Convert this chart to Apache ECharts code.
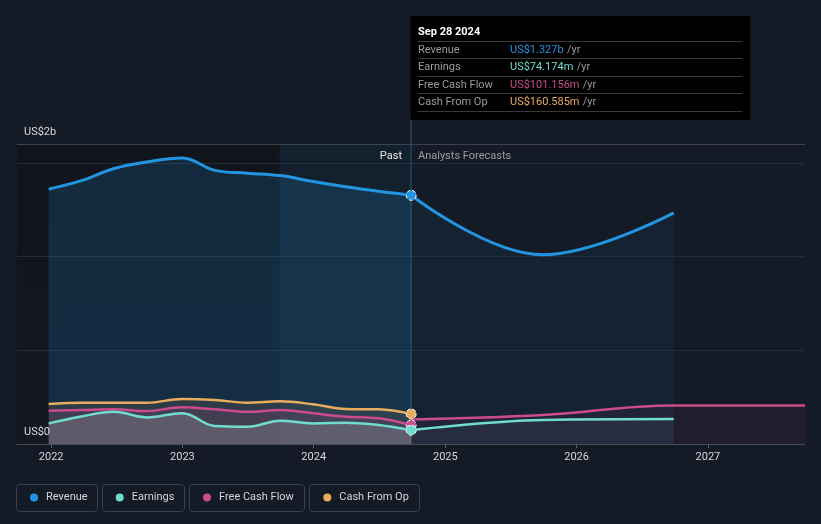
<!DOCTYPE html>
<html><head><meta charset="utf-8">
<script src="https://cdn.jsdelivr.net/npm/echarts@6/dist/echarts.min.js"></script>
<style>html,body{margin:0;padding:0;background:#151b26;}#c{width:821px;height:524px;}</style>
</head><body><div id="c"></div>
<script>
// ---- data (US$ millions) ----
const pastDates = ['2021-12-25','2022-03-26','2022-06-25','2022-09-24','2022-12-31','2023-04-01','2023-07-01','2023-09-30','2023-12-30','2024-03-30','2024-06-29','2024-09-28'];
const revenuePast  = [1360,1405,1470,1505,1526,1460,1445,1432,1400,1372,1348,1327];
const earningsPast = [110,147,172,142,164,96,92,124,110,114,101,74.174];
const fcfPast      = [178,181,185,176,196,185,172,181,164,146,137,101.156];
const cfoPast      = [213,220,220,220,240,235,220,228,212,187,185,160.585];
const forecastDates    = ['2024-09-28','2025-09-28','2026-09-28'];
const revenueForecast  = [1327,1010,1233];
const earningsForecast = [74.174,128,133];
const fcfForecastDates = ['2024-09-28','2025-09-28','2026-09-28','2027-09-28'];
const fcfForecast      = [131,155,206,206];
const tooltipDate = 'Sep 28 2024';
const tooltipLabels = ['Revenue','Earnings','Free Cash Flow','Cash From Op'];
const tooltipValues = ['US$1.327b','US$74.174m','US$101.156m','US$160.585m'];
const yLabels = ['US$2b','US$0'];

const COL = {rev:'#2394df', earn:'#6fdccf', fcf:'#cc4b8e', cfo:'#e8ac5e'};
const toTs = s => { const [y,m,d] = s.split('-').map(Number); return new Date(y, m-1, d).getTime(); };
const mk = (dates, vals, dot, color) => vals.map((v,i) => {
  const item = {value:[toTs(dates[i]), v]};
  if (dot && i === vals.length-1) {
    item.symbol = 'circle'; item.symbolSize = 10;
    item.itemStyle = {color: color, borderColor:'#ffffff', borderWidth:1, borderType:'dashed'};
  }
  return item;
});
const line = (name, color, data, width, area, extra) => Object.assign({
  name, type:'line', data, smooth:0.4, symbol:'none', showSymbol:true, color, z:3,
  lineStyle:{width, color}, areaStyle:{color:area, origin:'start'}, emphasis:{disabled:true}, silent:true
}, extra||{});

const chart = echarts.init(document.getElementById('c'), null, {renderer:'canvas'});
const FONT = 'Roboto, "Noto Sans", sans-serif';
const legendItem = (name, left) => ({
  data:[name], left, top:487, icon:'circle', itemWidth:14, itemHeight:8, itemGap:0,
  textStyle:{color:'#d2d4d8', fontSize:11, fontFamily:FONT}, selectedMode:false
});
const rowY = [50.3, 67.3, 85, 101.8];
const sepY = [41.5, 58.5, 76.5, 93.5, 111.5];
const rowCol = [COL.rev, COL.earn, COL.fcf, COL.cfo];

const graphic = [
  {type:'text', x:24, y:132, style:{text:yLabels[0], fill:'#d8d8d8', font:'11px '+FONT, verticalAlign:'middle'}, z:50},
  {type:'text', x:24, y:432, style:{text:yLabels[1], fill:'#d8d8d8', font:'11px '+FONT, verticalAlign:'middle'}, z:50},
  {type:'text', x:402, y:156.5, style:{text:'Past', fill:'#e6e6e6', font:'11px '+FONT, align:'right', verticalAlign:'middle'}, z:50},
  {type:'text', x:418, y:156.5, style:{text:'Analysts Forecasts', fill:'#9a9ea6', font:'11px '+FONT, verticalAlign:'middle'}, z:50},
  {type:'rect', shape:{x:410.5, y:16, width:340, height:104}, style:{fill:'#000000'}, z:100},
  {type:'text', x:418, y:32, style:{text:tooltipDate, fill:'#ffffff', font:'bold 11px '+FONT, verticalAlign:'middle'}, z:101}
];
sepY.forEach(y => graphic.push({type:'line', shape:{x1:418, y1:y, x2:742.5, y2:y}, style:{stroke:'#3a3a3a', lineWidth:1}, z:101}));
tooltipLabels.forEach((t,i) => {
  graphic.push({type:'text', x:418, y:rowY[i], style:{text:t, fill:'#9c9c9c', font:'11px '+FONT, verticalAlign:'middle'}, z:101});
  graphic.push({type:'text', x:510, y:rowY[i], style:{text:'{v|'+tooltipValues[i]+'} {u|/yr}', verticalAlign:'middle',
    rich:{v:{fill:rowCol[i], font:'11px '+FONT}, u:{fill:'#9c9c9c', font:'11px '+FONT}}}, z:101});
});
// legend boxes
[[16.5,81],[102.5,82],[189.5,115],[309.5,110]].forEach(b => graphic.push({type:'rect', shape:{x:b[0], y:484.5, width:b[1], height:27, r:3}, style:{fill:'rgba(0,0,0,0)', stroke:'#3b414c', lineWidth:1}}));

chart.setOption({
  backgroundColor:'#151b26',
  animation:false,
  textStyle:{fontFamily:FONT},
  grid:{left:17, right:16, top:116, bottom:80},
  legend:[legendItem('Revenue',25), legendItem('Earnings',110.7), legendItem('Free Cash Flow',198), legendItem('Cash From Op',318.3)],
  xAxis:{type:'time', min:toTs('2021-09-28'), max:toTs('2027-09-28'), splitNumber:6, minInterval:365*86400000,
    axisLine:{lineStyle:{color:'#474c56'}}, axisTick:{show:true, length:4, lineStyle:{color:'#5a5f68'}},
    axisLabel:{color:'#d6d8dc', fontSize:11, margin:8, showMinLabel:false, showMaxLabel:false,
      formatter: v => String(new Date(v).getFullYear())},
    splitLine:{show:false}},
  yAxis:{type:'value', min:0, max:1750, show:true, axisLine:{show:false}, axisTick:{show:false}, axisLabel:{show:false}, splitLine:{show:false}},
  graphic,
  series:[
    {type:'line', data:[], z:1, silent:true,
      markArea:{silent:true, z:1, data:[
        [{xAxis:toTs('2021-09-28'), yAxis:0, itemStyle:{color:{type:'linear', x:0, y:0, x2:0, y2:1, colorStops:[{offset:0, color:'#10141b'},{offset:1, color:'#131923'}]}}}, {xAxis:toTs('2023-09-28'), yAxis:1600}],
        [{xAxis:toTs('2023-09-28'), yAxis:0, itemStyle:{color:'#13202d'}}, {xAxis:toTs('2024-09-28'), yAxis:1600}]
      ]},
      markLine:{silent:true, z:2, symbol:'none', label:{show:false}, lineStyle:{type:'solid', color:'#262c37', width:1}, data:[
        {yAxis:500},{yAxis:1000},{yAxis:1500},
        {yAxis:1600, lineStyle:{color:'#3d424b', type:'solid', width:1}},
        {xAxis:toTs('2024-09-28'), lineStyle:{color:'#1f4563', type:'solid', width:1.5}}
      ]}},
    line('Revenue', COL.rev, mk(forecastDates, revenueForecast, false), 3, 'rgba(35,148,223,0.09)'),
    line('Revenue', COL.rev, mk(pastDates, revenuePast, true, COL.rev), 3, 'rgba(35,148,223,0.25)'),
    line('Cash From Op', COL.cfo, mk(pastDates, cfoPast, true, COL.cfo), 2.5, 'rgba(232,172,94,0.17)'),
    line('Free Cash Flow', COL.fcf, mk(fcfForecastDates, fcfForecast, false), 2.5, 'rgba(204,75,142,0.09)'),
    line('Free Cash Flow', COL.fcf, mk(pastDates, fcfPast, true, COL.fcf), 2.5, 'rgba(204,75,142,0.2)'),
    line('Earnings', COL.earn, mk(forecastDates, earningsForecast, false), 2.5, 'rgba(120,150,170,0.12)'),
    line('Earnings', COL.earn, mk(pastDates, earningsPast, true, COL.earn), 2.5, 'rgba(200,200,200,0.3)')
  ]
});
</script></body></html>
